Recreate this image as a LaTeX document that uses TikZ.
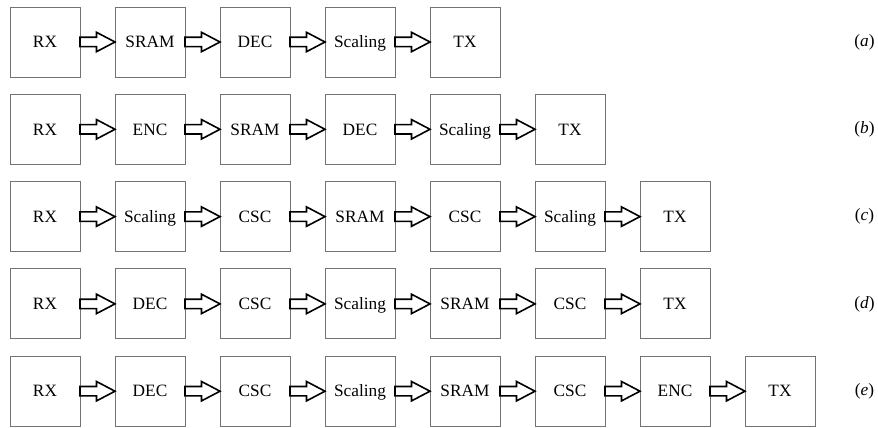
\documentclass[tikz,border=0pt]{standalone}
\usepackage{fontspec}
\setmainfont{Liberation Serif}
\newfontfamily\stagefont{Liberation Serif}
\usetikzlibrary{calc}
\definecolor{boxgray}{rgb}{0.45,0.45,0.45}
\tikzset{
  stage/.style={draw=boxgray, line width=0.9pt, minimum width=70pt, minimum height=70pt,
    inner sep=0pt, outer sep=0pt, text height=11.5pt, text depth=0pt,
    font=\stagefont\fontsize{17.3}{20}\selectfont},
  flow/.style={draw=black, line width=1.6pt, fill=white, miter limit=10},
  tag/.style={font=\stagefont\fontsize{17.3}{20}\selectfont, inner sep=0pt}
}
% hollow block arrow from the east side of #1 to the west side of #2
\newcommand\flowarrow[2]{%
  \draw[flow] ($(#1.east)+(0,4.7)$) -- ($(#1.east)+(16.5,4.7)$)
    -- ($(#1.east)+(16.5,9.7)$) -- (#2.west)
    -- ($(#1.east)+(16.5,-9.7)$) -- ($(#1.east)+(16.5,-4.7)$)
    -- ($(#1.east)+(0,-4.7)$) -- cycle;}
\begin{document}
\begin{tikzpicture}[x=1pt,y=1pt]
  \useasboundingbox (0,0) rectangle (878,-428);
  \foreach \r/\lbl/\items in {
      1/a/{RX,SRAM,DEC,Scaling,TX},
      2/b/{RX,ENC,SRAM,DEC,Scaling,TX},
      3/c/{RX,Scaling,CSC,SRAM,CSC,Scaling,TX},
      4/d/{RX,DEC,CSC,Scaling,SRAM,CSC,TX},
      5/e/{RX,DEC,CSC,Scaling,SRAM,CSC,ENC,TX}} {
    \pgfmathsetmacro\yy{-42-87.3*(\r-1)}
    \foreach \t [count=\i, remember=\i as \j (initially 0)] in \items {
      \node[stage] (s\r-\i) at ({45+105*(\i-1)},\yy) {\t};
      \ifnum\i>1 \flowarrow{s\r-\j}{s\r-\i}\fi
    }
    \node[tag] (tag-\r) at (864.5,\yy) {(\textit{\lbl})};
  }
\end{tikzpicture}
\end{document}
